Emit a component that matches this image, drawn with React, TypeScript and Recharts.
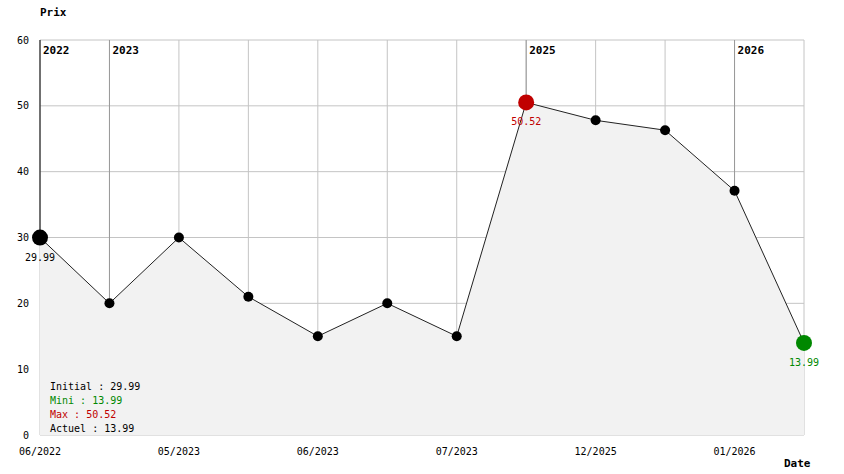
import { ComposedChart, Area, Line, XAxis, YAxis, CartesianGrid, ReferenceLine } from 'recharts';

// price history, one entry per recorded change
const months = ['06/2022', '03/2023', '05/2023', '05/2023', '06/2023', '06/2023', '07/2023', '11/2025', '12/2025', '12/2025', '01/2026', '01/2026'];
const prices = [29.99, 20, 29.99, 21, 15, 20, 15, 50.52, 47.8, 46.3, 37.1, 13.99];
const yTicks = [0, 10, 20, 30, 40, 50, 60];

const MONO = '"DejaVu Sans Mono", "Liberation Mono", monospace';

const data = prices.map((p, i) => ({ idx: i, month: months[i], price: p }));

const initial = prices[0];
const current = prices[prices.length - 1];
const minPrice = Math.min(...prices);
const maxPrice = Math.max(...prices);
const maxIdx = prices.indexOf(maxPrice);

// a year marker wherever the year changes
const yearMarks = months
  .map((m, i) => ({ idx: i, year: m.split('/')[1] }))
  .filter((m, i, arr) => i === 0 || m.year !== arr[i - 1].year);

const RED = '#c00000';
const GREEN = '#008800';

function PriceDot(props: any) {
  const { cx, cy, index } = props;
  if (cx == null || cy == null) return null;
  let color = '#000';
  let big = false;
  if (index === 0) big = true;
  if (index === maxIdx) { color = RED; big = true; }
  if (index === prices.length - 1) { color = GREEN; big = true; }
  return (
    <g key={`dot-${index}`}>
      <circle cx={cx} cy={cy} r={big ? 8 : 5} fill={color} stroke="none" />
      {big && (
        <text x={cx} y={cy + 23} textAnchor="middle" fontFamily={MONO} fontSize={10} fill={color}>
          {prices[index].toFixed(2)}
        </text>
      )}
    </g>
  );
}

export default function App() {
  return (
    <div style={{ position: 'absolute', left: 0, top: 0, width: 844, height: 474, background: '#fff' }}>
      <ComposedChart width={844} height={474} data={data} margin={{ top: 40, right: 40, left: 0, bottom: 0 }}>
        <CartesianGrid stroke="#c4c4c4" strokeWidth={1} />
        <XAxis
          dataKey="idx"
          type="number"
          domain={[0, prices.length - 1]}
          ticks={data.map((d) => d.idx)}
          tickFormatter={(v: number) => (v % 2 === 0 ? months[v] : '')}
          height={39}
          axisLine={false}
          tickLine={false}
          tickMargin={7}
          tick={{ fill: '#000', fontSize: 10, fontFamily: MONO }}
        />
        <YAxis
          domain={[0, 60]}
          ticks={yTicks}
          width={40}
          axisLine={false}
          tickLine={false}
          tickMargin={5}
          tick={{ fill: '#000', fontSize: 10, fontFamily: MONO }}
        />
        {/* year markers run from the top edge down to the price point */}
        {yearMarks.map((m) => (
          <ReferenceLine
            key={m.year}
            segment={[{ x: m.idx, y: 60 }, { x: m.idx, y: prices[m.idx] }]}
            stroke={m.idx === 0 ? '#000' : '#999'}
            label={(p: any) => (
              <text x={p.viewBox.x + 3} y={p.viewBox.y + 14} fontFamily={MONO} fontSize={11} fontWeight="bold" fill="#000">
                {m.year}
              </text>
            )}
          />
        ))}
        <Area type="linear" dataKey="price" baseValue={0} fill="#f2f2f2" fillOpacity={1} stroke="none" isAnimationActive={false} />
        <Line type="linear" dataKey="price" stroke="#222" strokeWidth={1} dot={PriceDot} activeDot={false} isAnimationActive={false} />
      </ComposedChart>

      <div style={{ position: 'absolute', left: 40, top: 6, fontFamily: MONO, fontSize: 11, fontWeight: 'bold' }}>Prix</div>
      <div style={{ position: 'absolute', left: 784, top: 457, fontFamily: MONO, fontSize: 11, fontWeight: 'bold' }}>Date</div>

      <div style={{ position: 'absolute', left: 50, top: 380, fontFamily: MONO, fontSize: 10, lineHeight: '14px' }}>
        <div style={{ color: '#000' }}>Initial : {initial.toFixed(2)}</div>
        <div style={{ color: GREEN }}>Mini : {minPrice.toFixed(2)}</div>
        <div style={{ color: RED }}>Max : {maxPrice.toFixed(2)}</div>
        <div style={{ color: '#000' }}>Actuel : {current.toFixed(2)}</div>
      </div>
    </div>
  );
}
